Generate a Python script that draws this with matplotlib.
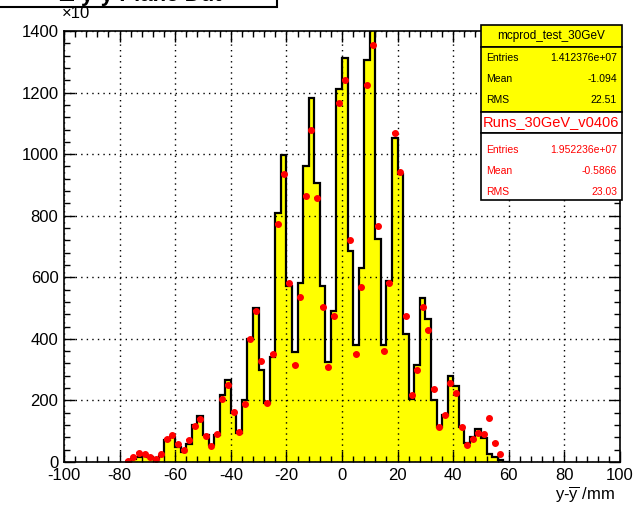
import numpy as np
import matplotlib
matplotlib.use("Agg")
import matplotlib.pyplot as plt
from matplotlib.patches import Rectangle
from matplotlib.ticker import MultipleLocator

plt.rcParams["font.family"] = ["Liberation Sans", "DejaVu Sans"]
plt.rcParams["mathtext.fontset"] = "custom"
plt.rcParams["mathtext.rm"] = "Liberation Sans"
plt.rcParams["mathtext.it"] = "Liberation Sans:italic"
plt.rcParams["axes.unicode_minus"] = False

# ---------------------------------------------------------------------------
# data (2 mm bins, left edges from -78 to 58)
# ---------------------------------------------------------------------------
bin_lo = -78
bin_w = 2
mc_counts = [0, 9, 17, 26, 17, 9, 20, 71, 82, 50, 33, 58, 120, 149, 88, 55, 88,
             218, 266, 158, 95, 200, 398, 499, 299, 191, 340, 809, 997, 572,
             358, 583, 962, 1183, 905, 572, 324, 490, 1211, 1311, 686, 380,
             629, 1305, 1480, 724, 380, 589, 1051, 935, 416, 205, 315, 533,
             466, 203, 115, 153, 279, 247, 115, 63, 82, 106, 77, 26, 17, 6, 0]

run_centers = list(range(-77, 58, 2))
run_counts = [2, 17, 30, 26, 17, 9, 26, 74, 88, 58, 39, 71, 117, 140, 84, 52,
              91, 204, 250, 163, 98, 188, 398, 491, 329, 191, 351, 772, 935,
              580, 315, 537, 864, 1078, 856, 502, 309, 474, 1167, 1240, 721,
              350, 569, 1224, 1354, 766, 360, 580, 1070, 942, 474, 218, 299,
              502, 429, 236, 113, 153, 258, 225, 115, 55, 74, 95, 90, 142, 63,
              26]

mc_name = "mcprod_test_30GeV"
mc_stats = [("Entries", "1.412376e+07"), ("Mean", "-1.094"), ("RMS", "22.51")]
run_name = "Runs_30GeV_v0406"
run_stats = [("Entries", "1.952236e+07"), ("Mean", "-0.5866"), ("RMS", "23.03")]

edges = bin_lo + bin_w * np.arange(len(mc_counts) + 1)

W, H = 637, 507
fig = plt.figure(figsize=(W / 100, H / 100), dpi=100)
ax = fig.add_axes([64 / W, 1 - 462 / H, 556 / W, 431 / H])

ax.stairs(mc_counts, edges, fill=True, color="#ffff00", zorder=2)
ax.stairs(mc_counts, edges, color="black", lw=1.6, zorder=3)
ax.errorbar(run_centers, run_counts, xerr=bin_w / 2, fmt="o", color="red",
            ms=4, elinewidth=1.6, capsize=0, zorder=4)

ax.set_xlim(-100, 100)
ax.set_ylim(0, 1400)
ax.xaxis.set_major_locator(MultipleLocator(20))
ax.xaxis.set_minor_locator(MultipleLocator(4))
ax.yaxis.set_major_locator(MultipleLocator(200))
ax.yaxis.set_minor_locator(MultipleLocator(40))
ax.tick_params(which="both", direction="in", top=True, right=True,
               labelsize=12, width=1)
ax.tick_params(which="major", length=8, pad=4)
ax.tick_params(which="minor", length=4)
ax.grid(True, which="major", color="black", ls=(0, (1, 3)), lw=1, zorder=1)
ax.set_axisbelow(False)
for s in ax.spines.values():
    s.set_linewidth(1.2)
    s.set_zorder(5)

fig.text(62 / W, 1 - 14 / H, "×10", fontsize=12, va="center", ha="left")
fig.text(615 / W, 1 - 495 / H, r"y-$\overline{\mathrm{y}}$ /mm", fontsize=12,
         ha="right", va="center")

# title box, cut by the top of the canvas
fig.patches.append(Rectangle((-5 / W, 1 - 7 / H), 282 / W, 30 / H,
                             transform=fig.transFigure, facecolor="white",
                             edgecolor="black", lw=1.5, zorder=6))
fig.text(140 / W, 1 + 4 / H, "Δ y-y Plane Dut", fontsize=16, weight="bold",
         ha="center", va="center", zorder=7)

# stats boxes
def box(y0, y1, fc):
    fig.patches.append(Rectangle((481 / W, 1 - y1 / H), 141 / W, (y1 - y0) / H,
                                 transform=fig.transFigure, facecolor=fc,
                                 edgecolor="black", lw=1.2, zorder=6))

def stat_text(x, y, s, size=7.5, **kw):
    fig.text(x / W, 1 - y / H, s, fontsize=size, va="center", zorder=8, **kw)

box(25, 47, "#ffff00")
box(47, 112, "#ffff00")
box(112, 133, "white")
box(133, 200, "white")
stat_text(551, 36, mc_name, size=8.5, ha="center")
for i, (k, v) in enumerate(mc_stats):
    stat_text(486, 58 + i * 21, k)
    stat_text(617, 58 + i * 21, v, ha="right")
stat_text(551, 122, run_name, size=10.5, ha="center", color="red")
for i, (k, v) in enumerate(run_stats):
    stat_text(486, 150 + i * 21, k, color="red")
    stat_text(617, 150 + i * 21, v, ha="right", color="red")

fig.savefig("out.png", dpi=100)
